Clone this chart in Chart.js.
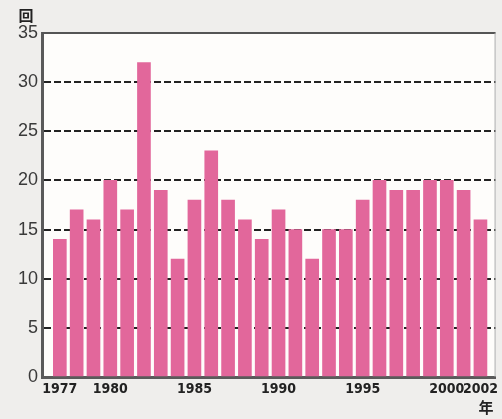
<!DOCTYPE html>
<html>
<head>
<meta charset="utf-8">
<script src="https://cdn.jsdelivr.net/npm/chart.js@4/dist/chart.umd.min.js"></script>
<style>
  html, body { margin: 0; padding: 0; background: #efeeec; }
  #wrap { width: 502px; height: 419px; position: relative; }
</style>
</head>
<body>
<div id="wrap"><canvas id="chart" width="502" height="419"></canvas></div>
<script>
// yearly counts, 1977-2002
const years = [1977, 1978, 1979, 1980, 1981, 1982, 1983, 1984, 1985, 1986, 1987, 1988, 1989,
               1990, 1991, 1992, 1993, 1994, 1995, 1996, 1997, 1998, 1999, 2000, 2001, 2002];
const counts = [14, 17, 16, 20, 17, 32, 19, 12, 18, 23, 18, 16, 14,
                17, 15, 12, 15, 15, 18, 20, 19, 19, 20, 20, 19, 16];
const yearTicks = [1977, 1980, 1985, 1990, 1995, 2000, 2002];
const countTicks = [0, 5, 10, 15, 20, 25, 30, 35];

const pink = '#e2679b';

// plot background, top/right frame and unit labels
const framePlugin = {
    id: 'frame',
    beforeDraw(chart) {
        const { ctx, chartArea: a } = chart;
        ctx.save();
        ctx.fillStyle = '#fefdfb';
        ctx.fillRect(a.left, a.top, a.right - a.left, a.bottom - a.top);
        ctx.restore();
    },
    afterDraw(chart) {
        const { ctx, chartArea: a } = chart;
        ctx.save();
        ctx.strokeStyle = '#555';
        ctx.lineWidth = 2;
        ctx.beginPath();
        ctx.moveTo(a.left, a.top);
        ctx.lineTo(a.right, a.top);
        ctx.stroke();
        ctx.strokeStyle = '#aaa';
        ctx.lineWidth = 1;
        ctx.beginPath();
        ctx.moveTo(a.right - 0.5, a.top);
        ctx.lineTo(a.right - 0.5, a.bottom);
        ctx.stroke();

        ctx.fillStyle = '#222';
        ctx.font = 'bold 15px "Noto Sans CJK JP", sans-serif';
        ctx.textAlign = 'center';
        ctx.textBaseline = 'middle';
        ctx.fillText('回', 26, 15);
        ctx.fillText('年', 486, 407);
        ctx.restore();
    }
};

new Chart(document.getElementById('chart'), {
    type: 'bar',
    data: {
        datasets: [{
            data: years.map((y, i) => ({ x: y, y: counts[i] })),
            backgroundColor: pink,
            borderWidth: 0,
            barThickness: 13
        }]
    },
    options: {
        responsive: false,
        animation: false,
        layout: { padding: { left: 0, top: 33, right: 1, bottom: 0 } },
        plugins: { legend: { display: false }, tooltip: { enabled: false } },
        scales: {
            x: {
                type: 'linear',
                offset: false,
                min: 1975.94,
                max: 2002.9,
                afterBuildTicks: s => { s.ticks = yearTicks.map(v => ({ value: v })); },
                afterFit: s => { s.height = 42; },
                grid: { display: false, drawTicks: false },
                border: { color: '#5a5a5a', width: 3 },
                ticks: {
                    autoSkip: false,
                    maxRotation: 0,
                    padding: 4,
                    color: '#222',
                    font: { family: "'Liberation Sans Narrow', 'DejaVu Sans Condensed', sans-serif", size: 14, weight: 'bold' },
                    callback: v => String(v)
                }
            },
            y: {
                min: 0,
                max: 35,
                afterBuildTicks: s => { s.ticks = countTicks.map(v => ({ value: v })); },
                afterFit: s => { s.width = 42; },
                grid: {
                    drawTicks: false,
                    color: c => (c.tick.value === 0 || c.tick.value === 35) ? 'rgba(0,0,0,0)' : '#222',
                    lineWidth: 2
                },
                // dash applies to the horizontal grid lines
                border: { color: '#5a5a5a', width: 3, dash: [7, 3] },
                ticks: {
                    padding: 4,
                    color: '#3a3a3a',
                    font: { family: "'Liberation Sans', Arial, sans-serif", size: 18 }
                }
            }
        }
    },
    plugins: [framePlugin]
});
</script>
</body>
</html>
